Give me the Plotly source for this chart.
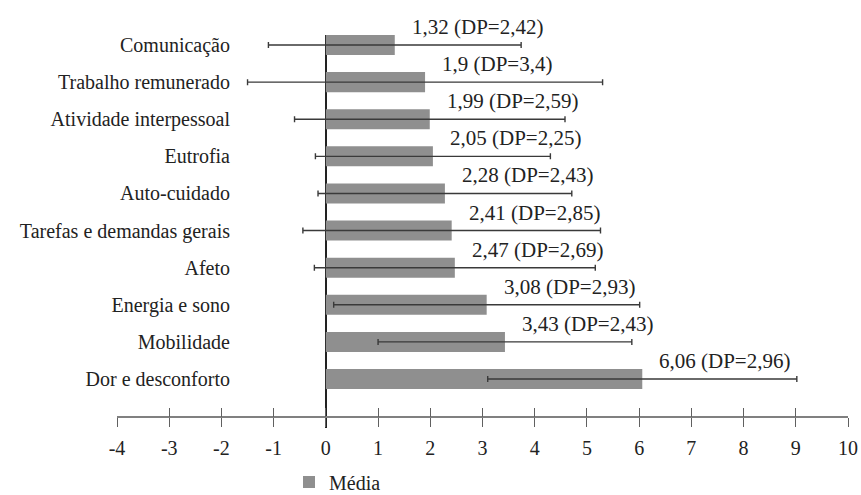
import plotly.graph_objects as go

categories = ["Comunicação", "Trabalho remunerado", "Atividade interpessoal", "Eutrofia",
              "Auto-cuidado", "Tarefas e demandas gerais", "Afeto", "Energia e sono",
              "Mobilidade", "Dor e desconforto"]
means = [1.32, 1.9, 1.99, 2.05, 2.28, 2.41, 2.47, 3.08, 3.43, 6.06]
sds = [2.42, 3.4, 2.59, 2.25, 2.43, 2.85, 2.69, 2.93, 2.43, 2.96]
tick_vals = list(range(-4, 11))
tick_text = [str(v) for v in tick_vals]

FONT = "Liberation Serif, DejaVu Serif, serif"
W, H = 861, 495
L, R, T = 117, 13, 35
B = H - 428

fig = go.Figure()
fig.add_trace(go.Bar(
    y=categories, x=means, orientation="h", name="Média",
    marker=dict(color="#8f8f8f", line=dict(width=0)),
    error_x=dict(type="data", array=sds, visible=True, color="#3a3a3a", thickness=1.4, width=3),
))
# invisible trace to draw inner ticks on overlay axis
fig.add_trace(go.Scatter(x=[-4, 10], y=[categories[0], categories[0]], xaxis="x2",
                         mode="markers", marker=dict(opacity=0), showlegend=False, hoverinfo="skip"))

for c, m, s in zip(categories, means, sds):
    lbl = f"{m:g}".replace(".", ",") + " (DP=" + f"{s:g}".replace(".", ",") + ")"
    fig.add_annotation(x=m, y=c, text=lbl, showarrow=False, xanchor="left", yanchor="middle",
                       xshift=15, yshift=18, font=dict(family=FONT, size=21, color="#222"))

plot_h = H - T - B
axis_pos = (428 - 417) / plot_h

fig.update_layout(
    width=W, height=H, margin=dict(l=L, r=R, t=T, b=B, autoexpand=False),
    paper_bgcolor="white", plot_bgcolor="white",
    bargap=0.46,
    font=dict(family=FONT, size=20, color="#222"),
    xaxis=dict(range=[-4, 10], tickvals=tick_vals, ticktext=tick_text, showgrid=False,
               zeroline=True, zerolinecolor="#222", zerolinewidth=1.5,
               showline=True, linecolor="#808080", linewidth=1.5,
               ticks="outside", ticklen=9, tickwidth=1.3, tickcolor="#606060",
               anchor="free", position=axis_pos, automargin=False,
               ticklabeloverflow="allow", ticklabelstandoff=4,
               tickfont=dict(size=20, family=FONT)),
    xaxis2=dict(range=[-4, 10], tickvals=tick_vals, overlaying="x", anchor="free", position=axis_pos,
                showgrid=False, zeroline=False, showline=False, showticklabels=False,
                ticks="inside", ticklen=9, tickwidth=1.3, tickcolor="#606060", automargin=False),
    yaxis=dict(autorange=False, range=[10.32, -0.27], categoryorder="array", categoryarray=categories,
               showgrid=False, zeroline=False, showline=False, ticks="",
               anchor="free", position=(230 - L) / (W - L - R), automargin=False,
               tickfont=dict(size=20, family=FONT)),
    legend=dict(orientation="h", xref="container", yref="container", x=289 / W, xanchor="left",
                y=1 - 482 / H, yanchor="middle", font=dict(family=FONT, size=20, color="#222")),
    showlegend=True,
)

fig.write_html("out.html", config={"displayModeBar": False},
               post_script="document.body.style.margin='0px';document.body.style.overflow='hidden';")
